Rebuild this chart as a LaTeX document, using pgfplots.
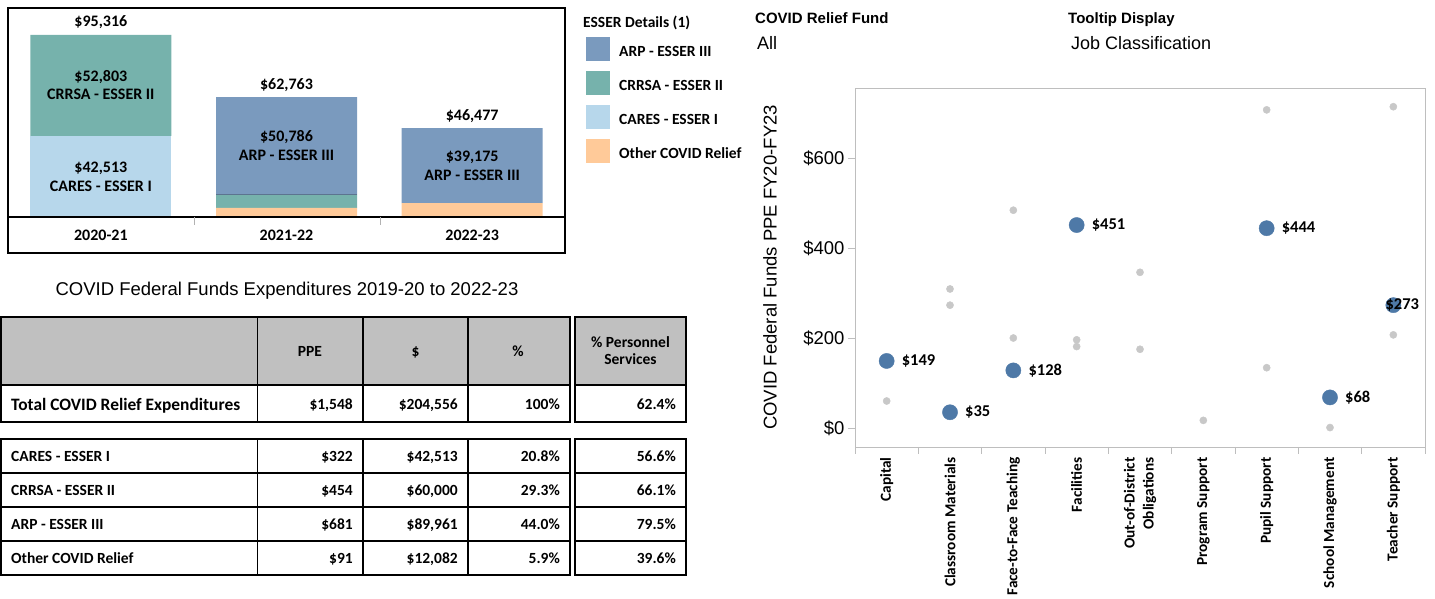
\documentclass[border=0pt]{standalone}
\usepackage{pgfplots}
\pgfplotsset{compat=1.18}
\usepackage{fontspec}
\setmainfont{Liberation Sans}
\newfontfamily\carl{Carlito}
\newcommand{\CB}[1]{\carl\bfseries\fontsize{#1}{19bp}\selectfont}
\newcommand{\AR}[1]{\fontsize{#1}{20bp}\selectfont}
\definecolor{arp}{RGB}{122,154,190}
\definecolor{crrsa}{RGB}{118,178,172}
\definecolor{cares}{RGB}{183,215,235}
\definecolor{other}{RGB}{255,202,153}
\definecolor{sblue}{RGB}{78,121,167}
\definecolor{sgray}{RGB}{200,200,200}
\definecolor{hgray}{RGB}{192,192,192}
\definecolor{axgray}{RGB}{190,190,190}
\begin{document}
\begin{tikzpicture}[x=1bp,y=1bp]
\path[use as bounding box] (0bp,0bp) rectangle (1435bp,599bp);

% ---------------- stacked bar chart ----------------
\begin{axis}[at={(8bp,382bp)}, anchor=south west, scale only axis,
  width=557bp, height=209bp, xmin=-0.5, xmax=2.5, ymin=0, ymax=109450,
  hide axis, clip=false, ybar stacked, bar width=141bp]
\addplot[fill=other, draw=none] coordinates {(0,0) (1,4780) (2,7302)};
\addplot[fill=cares, draw=none] coordinates {(0,42513) (1,0) (2,0)};
\addplot[fill=crrsa, draw=none] coordinates {(0,52803) (1,7197) (2,0)};
\addplot[fill=arp, draw=none] coordinates {(0,0) (1,50786) (2,39175)};
\coordinate (t0) at (axis cs:0,95316);
\coordinate (t1) at (axis cs:1,62763);
\coordinate (t2) at (axis cs:2,46477);
\coordinate (s0a) at (axis cs:0,68914.5);
\coordinate (s0b) at (axis cs:0,21256.5);
\coordinate (s1) at (axis cs:1,37370);
\coordinate (s2) at (axis cs:2,26889.5);
\coordinate (b0) at (axis cs:0,0);
\coordinate (b1) at (axis cs:1,0);
\coordinate (b2) at (axis cs:2,0);
\coordinate (sep) at (axis cs:1,11977);
\end{axis}
\draw[arp!75!black, line width=0.6bp] ([xshift=-70.5bp]sep) -- ([xshift=70.5bp]sep);
\begin{scope}[every node/.style={anchor=base, inner sep=0pt, font=\CB{16bp}}]
\node[yshift=8bp] at (t0) {\$95,316};
\node[yshift=8bp] at (t1) {\$62,763};
\node[yshift=8bp] at (t2) {\$46,477};
\node[yshift=3.7bp] at (s0a) {\$52,803};
\node[yshift=-14.6bp] at (s0a) {CRRSA - ESSER II};
\node[yshift=3.7bp] at (s0b) {\$42,513};
\node[yshift=-14.6bp] at (s0b) {CARES - ESSER I};
\node[yshift=3.7bp] at (s1) {\$50,786};
\node[yshift=-14.6bp] at (s1) {ARP - ESSER III};
\node[yshift=3.7bp] at (s2) {\$39,175};
\node[yshift=-14.6bp] at (s2) {ARP - ESSER III};
\node[yshift=-23.7bp] at (b0) {2020-21};
\node[yshift=-23.7bp] at (b1) {2021-22};
\node[yshift=-23.7bp] at (b2) {2022-23};
\end{scope}
\draw[line width=1.8bp] (8,346) rectangle (565,591);
\draw[line width=1.5bp] (8,382) -- (565,382);
\draw[gray!60, line width=1bp] (194,382) -- (194,374);
\draw[gray!60, line width=1bp] (380,382) -- (380,374);

% legend
\node[anchor=base west, inner sep=0pt, font=\CB{15.5bp}] at (583,571.7) {ESSER Details (1)};
\fill[arp] (586,538) rectangle (610,562);
\fill[crrsa] (586,504) rectangle (610,528);
\fill[cares] (586,470) rectangle (610,494);
\fill[other] (586,436) rectangle (610,460);
\node[anchor=base west, inner sep=0pt, font=\CB{15.5bp}] at (619,542.5) {ARP - ESSER III};
\node[anchor=base west, inner sep=0pt, font=\CB{15.5bp}] at (619,508.5) {CRRSA - ESSER II};
\node[anchor=base west, inner sep=0pt, font=\CB{15.5bp}] at (619,474.5) {CARES - ESSER I};
\node[anchor=base west, inner sep=0pt, font=\CB{15.5bp}] at (619,440.5) {Other COVID Relief};

% ---------------- table ----------------
\node[anchor=base, inner sep=0pt, font=\AR{18.5bp}] at (287,303.4) {COVID Federal Funds Expenditures 2019-20 to 2022-23};
\fill[hgray] (1,214) rectangle (570,282);
\fill[hgray] (575,214) rectangle (686,282);
\begin{scope}[line width=1.6bp]
\draw (1,177) rectangle (570,282);
\draw (1,214) -- (570,214);
\foreach \c in {257.5,363,468} \draw (\c,177) -- (\c,282);
\draw (575,177) rectangle (686,282);
\draw (575,214) -- (686,214);
\draw (1,24) rectangle (570,160);
\foreach \r in {126,92,58} {\draw (1,\r) -- (570,\r); \draw (575,\r) -- (686,\r);}
\foreach \c in {257.5,363,468} \draw (\c,24) -- (\c,160);
\draw (575,24) rectangle (686,160);
\end{scope}
\begin{scope}[every node/.style={inner sep=0pt, font=\CB{15.5bp}}]
\node[anchor=base] at (310,243) {PPE};
\node[anchor=base] at (415.5,243) {\$};
\node[anchor=base] at (518,243) {\%};
\node[anchor=base] at (630.5,251.7) {\% Personnel};
\node[anchor=base] at (630.5,234.7) {Services};
\node[anchor=base west, font=\CB{17.4bp}] at (11,189) {Total COVID Relief Expenditures};
\node[anchor=base east] at (353,190) {\$1,548};
\node[anchor=base east] at (458,190) {\$204,556};
\node[anchor=base east] at (560,190) {100\%};
\node[anchor=base east] at (676,190) {62.4\%};
\node[anchor=base west] at (11,137.5) {CARES - ESSER I};
\node[anchor=base east] at (353,137.5) {\$322};
\node[anchor=base east] at (458,137.5) {\$42,513};
\node[anchor=base east] at (560,137.5) {20.8\%};
\node[anchor=base east] at (676,137.5) {56.6\%};
\node[anchor=base west] at (11,103.5) {CRRSA - ESSER II};
\node[anchor=base east] at (353,103.5) {\$454};
\node[anchor=base east] at (458,103.5) {\$60,000};
\node[anchor=base east] at (560,103.5) {29.3\%};
\node[anchor=base east] at (676,103.5) {66.1\%};
\node[anchor=base west] at (11,69.5) {ARP - ESSER III};
\node[anchor=base east] at (353,69.5) {\$681};
\node[anchor=base east] at (458,69.5) {\$89,961};
\node[anchor=base east] at (560,69.5) {44.0\%};
\node[anchor=base east] at (676,69.5) {79.5\%};
\node[anchor=base west] at (11,35.5) {Other COVID Relief};
\node[anchor=base east] at (353,35.5) {\$91};
\node[anchor=base east] at (458,35.5) {\$12,082};
\node[anchor=base east] at (560,35.5) {5.9\%};
\node[anchor=base east] at (676,35.5) {39.6\%};
\end{scope}

% ---------------- header filters ----------------
\node[anchor=base west, inner sep=0pt, font=\AR{15bp}\bfseries] at (755,575) {COVID Relief Fund};
\node[anchor=base west, inner sep=0pt, font=\AR{18bp}] at (757,549.5) {All};
\node[anchor=base west, inner sep=0pt, font=\AR{15bp}\bfseries] at (1068,575) {Tooltip Display};
\node[anchor=base west, inner sep=0pt, font=\AR{18bp}] at (1071,549.5) {Job Classification};

% ---------------- scatter ----------------
\begin{axis}[at={(855bp,152bp)}, anchor=south west, scale only axis,
  width=570bp, height=359bp, xmin=-0.5, xmax=8.5, ymin=-42.2, ymax=755.6,
  axis line style={draw=axgray, line width=0.9bp},
  tick align=outside, major tick length=7bp,
  ytick pos=left, xtick pos=bottom,
  ytick={0,200,400,600}, yticklabels={\$0,\$200,\$400,\$600},
  ytick style={draw=axgray, line width=0.9bp},
  yticklabel style={font=\AR{18.5bp}},
  xtick={0,...,8}, xtick style={draw=none},
  xticklabels={Capital, Classroom Materials, Face-to-Face Teaching, Facilities, {Out-of-District\\Obligations}, Program Support, Pupil Support, School Management, Teacher Support},
  xticklabel style={rotate=90, anchor=east, align=right, font=\CB{15.3bp}},
  every axis y label/.style={at={(axis description cs:-0.149,0.5)}, rotate=90, anchor=center, font=\AR{18.5bp}},
  ylabel={COVID Federal Funds PPE FY20-FY23},
  clip=false]
\addplot[only marks, mark=*, mark size=3.6bp, color=sgray] coordinates {
  (0,60) (1,309) (1,273) (2,484) (2,200) (3,196) (3,181) (4,346) (4,175)
  (5,17) (6,707) (6,134) (7,1) (8,714) (8,207)};
\addplot[only marks, mark=*, mark size=7.6bp, color=sblue,
  point meta=explicit symbolic, nodes near coords,
  every node near coord/.style={anchor=west, xshift=15bp, inner sep=0pt, font=\CB{16.5bp}, text=black}]
  coordinates {(0,149) [\$149] (1,35) [\$35] (2,128) [\$128] (3,451) [\$451] (6,444) [\$444] (7,68) [\$68]};
\addplot[only marks, mark=*, mark size=7.6bp, color=sblue,
  point meta=explicit symbolic, nodes near coords,
  every node near coord/.style={anchor=west, xshift=-8bp, inner sep=0pt, font=\CB{16.5bp}, text=black}]
  coordinates {(8,273) [\$273]};
\end{axis}
\foreach \k in {0,...,9} \draw[axgray, line width=0.9bp] ({855+63.3333*\k},152) -- ({855+63.3333*\k},145);
\end{tikzpicture}
\end{document}
